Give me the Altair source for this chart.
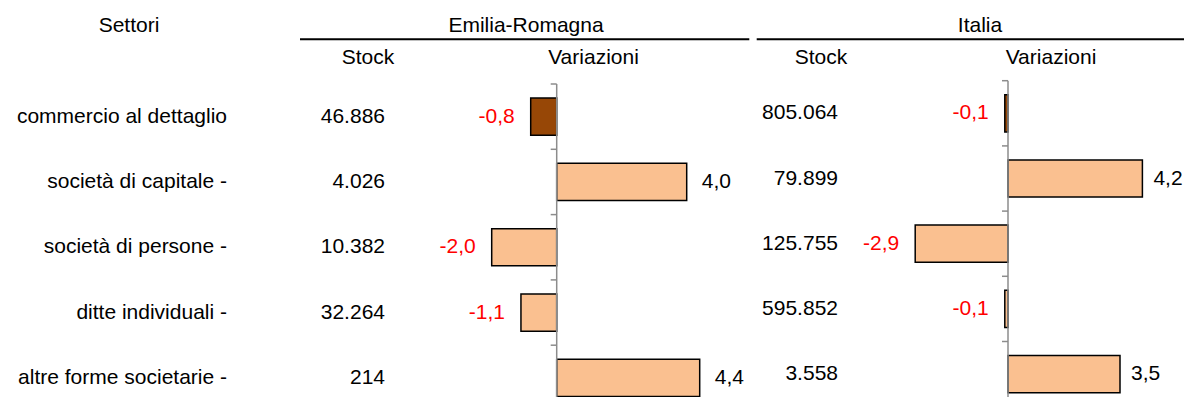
import altair as alt
import pandas as pd

# ---- data ----
sectors = [
    "commercio al dettaglio",
    "società di capitale -",
    "società di persone -",
    "ditte individuali -",
    "altre forme societarie -",
]
er_stock = [46886, 4026, 10382, 32264, 214]
er_var = [-0.8, 4.0, -2.0, -1.1, 4.4]
it_stock = [805064, 79899, 125755, 595852, 3558]
it_var = [-0.1, 4.2, -2.9, -0.1, 3.5]

col_header = "Settori"
region_titles = ["Emilia-Romagna", "Italia"]
sub_titles = ["Stock", "Variazioni"]

df = pd.DataFrame({
    "settore": sectors,
    "er_stock": er_stock,
    "er_var": er_var,
    "it_stock": it_stock,
    "it_var": it_var,
})
one = pd.DataFrame({"k": [0]})

FONT = "Liberation Sans"
FS = 21
DARK = "#974706"
LIGHT = "#FAC090"
GRAY = "#8C8C8C"
RED = "#FF0000"

W, H = 1176, 389

y_er_scale = alt.Scale(domain=sectors, range=[76, 402.5], paddingInner=0, paddingOuter=0)
y_it_scale = alt.Scale(domain=sectors, range=[72.7, 398.7], paddingInner=0, paddingOuter=0)
x_er_scale = alt.Scale(domain=[-3, 5], range=[451.2, 711.2], nice=False, zero=False)
x_it_scale = alt.Scale(domain=[-3, 5], range=[904.0, 1160.0], nice=False, zero=False)


def yenc(scale, band=0.5):
    return alt.Y("settore:N", sort=sectors, scale=scale, axis=None, bandPosition=band)


def text_mark(**kw):
    base = dict(font=FONT, fontSize=FS, color="#000000", baseline="middle")
    base.update(kw)
    return base


layers = []

# ---- headers ----
def header(txt, x, y):
    return alt.Chart(one).mark_text(**text_mark(align="center", baseline="alphabetic")).encode(
        x=alt.value(x), y=alt.value(y), text=alt.value(txt)
    )

layers.append(header(col_header, 121, 23.7))
layers.append(header(region_titles[0], 518, 23.7))
layers.append(header(region_titles[1], 972, 23.7))
layers.append(header(sub_titles[0], 360, 55.5))
layers.append(header(sub_titles[1], 585.5, 55.5))
layers.append(header(sub_titles[0], 813, 55.5))
layers.append(header(sub_titles[1], 1043, 55.5))

for x1, x2 in [(292, 741.3), (748.7, W)]:
    layers.append(
        alt.Chart(one).mark_rule(color="#000000", strokeWidth=2).encode(
            x=alt.value(x1), x2=alt.value(x2), y=alt.value(31.3)
        )
    )

# ---- row labels ----
layers.append(
    alt.Chart(df).mark_text(**text_mark(align="right")).encode(
        x=alt.value(219), y=yenc(y_er_scale), text="settore:N"
    )
)

fmt_stock = "replace(format(datum.{f}, ',d'), ',', '.')"
fmt_var = "(datum.{f} < 0 ? '-' : '') + replace(format(abs(datum.{f}), '.1f'), '.', ',')"


def region(stock_field, var_field, xscale, yscale, stock_right, axis_top, pos_dx):
    out = []
    # stock numbers
    out.append(
        alt.Chart(df).transform_calculate(lab=fmt_stock.format(f=stock_field))
        .mark_text(**text_mark(align="right"))
        .encode(x=alt.value(stock_right), y=yenc(yscale), text="lab:N")
    )
    # bars
    out.append(
        alt.Chart(df).mark_bar(stroke="#000000", strokeWidth=1.5, height={"band": 0.57}).encode(
            x=alt.X(f"{var_field}:Q", scale=xscale, axis=None),
            x2=alt.X2Datum(0),
            y=yenc(yscale),
            color=alt.condition(alt.datum.settore == sectors[0], alt.value(DARK), alt.value(LIGHT)),
        )
    )
    # zero axis line
    out.append(
        alt.Chart(one).mark_rule(color=GRAY, strokeWidth=1.5).encode(
            x=alt.XDatum(0, type="quantitative", scale=xscale, axis=None),
            y=alt.value(axis_top), y2=alt.value(H),
        )
    )
    # ticks at category boundaries
    out.append(
        alt.Chart(df).mark_rule(color=GRAY, strokeWidth=1.5, x2Offset=-6).encode(
            x=alt.XDatum(0, type="quantitative", scale=xscale, axis=None),
            x2=alt.X2Datum(0),
            y=yenc(yscale, band=0),
        )
    )
    # value labels
    out.append(
        alt.Chart(df).transform_filter(f"datum.{var_field} >= 0")
        .transform_calculate(lab=fmt_var.format(f=var_field))
        .mark_text(**text_mark(align="left", dx=pos_dx))
        .encode(x=alt.X(f"{var_field}:Q", scale=xscale, axis=None), y=yenc(yscale), text="lab:N")
    )
    out.append(
        alt.Chart(df).transform_filter(f"datum.{var_field} < 0")
        .transform_calculate(lab=fmt_var.format(f=var_field))
        .mark_text(**text_mark(align="right", dx=-16, color=RED))
        .encode(x=alt.X(f"{var_field}:Q", scale=xscale, axis=None), y=yenc(yscale), text="lab:N")
    )
    return out


layers += region("er_stock", "er_var", x_er_scale, y_er_scale, 377, 76, 15)
layers += region("it_stock", "it_var", x_it_scale, y_it_scale, 830, 72.7, 11)

chart = (
    alt.layer(*layers)
    .resolve_scale(x="independent", y="independent")
    .properties(width=W, height=H, padding=0, autosize=alt.AutoSizeParams(type="none"))
    .configure_view(stroke=None)
)

chart.save("out.html", embed_options={"renderer": "svg", "actions": False})
